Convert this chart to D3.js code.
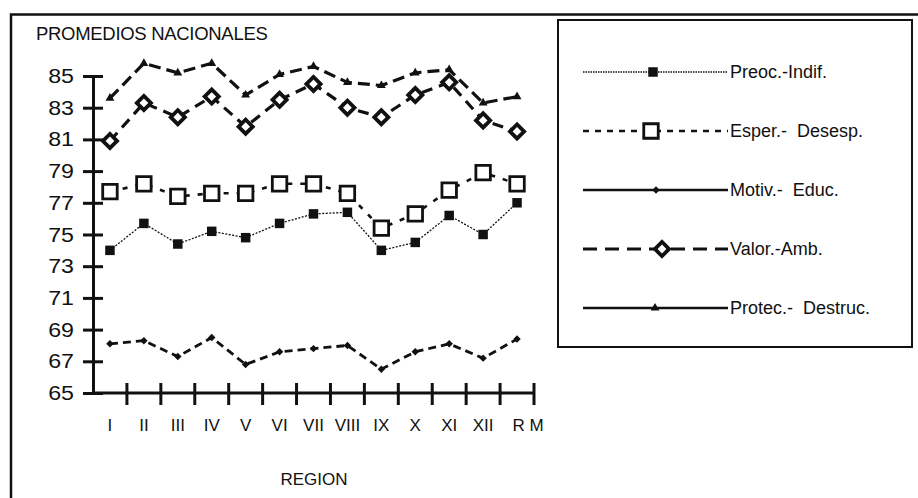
<!DOCTYPE html>
<html>
<head>
<meta charset="utf-8">
<script src="https://cdn.jsdelivr.net/npm/d3@7"></script>
<style>
  body { margin: 0; background: #fff; }
  text { font-family: "Liberation Sans", Arial, Helvetica, sans-serif; fill: #111; }
</style>
</head>
<body>
<div id="chart"></div>
<script>
// regiones y promedios
var regions = ["I", "II", "III", "IV", "V", "VI", "VII", "VIII", "IX", "X", "XI", "XII", "R M"];
var preoc  = [74.0, 75.7, 74.4, 75.2, 74.8, 75.7, 76.3, 76.4, 74.0, 74.5, 76.2, 75.0, 77.0];
var esper  = [77.7, 78.2, 77.4, 77.6, 77.6, 78.2, 78.2, 77.6, 75.4, 76.3, 77.8, 78.9, 78.2];
var motiv  = [68.1, 68.3, 67.3, 68.5, 66.8, 67.6, 67.8, 68.0, 66.5, 67.6, 68.1, 67.2, 68.4];
var valor  = [80.9, 83.3, 82.4, 83.7, 81.8, 83.5, 84.5, 83.0, 82.4, 83.8, 84.6, 82.2, 81.5];
var protec = [83.6, 85.8, 85.2, 85.8, 83.8, 85.1, 85.6, 84.6, 84.4, 85.2, 85.4, 83.3, 83.7];
var seriesNames = ["Preoc.-Indif.", "Esper.-  Desesp.", "Motiv.-  Educ.", "Valor.-Amb.", "Protec.-  Destruc."];
var yTicks = [65, 67, 69, 71, 73, 75, 77, 79, 81, 83, 85];

var series = [preoc, esper, motiv, valor, protec];

// estilos de cada serie (mismo orden que seriesNames)
var styles = [
  { symbol: d3.symbolSquare, size: 90, rot: 0, fill: "#111", sw: 0, line: 1.3, dash: "2,1.5", legDash: "1.5,1", legW: 1.4 },
  { symbol: d3.symbolSquare, size: 210, rot: 0, fill: "#fff", sw: 2.8, line: 2.6, dash: "5,8", legDash: "6,6", legW: 2.4 },
  { symbol: d3.symbolSquare, size: 28, rot: 45, fill: "#111", sw: 0, line: 2.8, dash: "8,5", legDash: null, legW: 2.4 },
  { symbol: d3.symbolSquare, size: 100, rot: 45, fill: "#fff", sw: 3.8, line: 3.2, dash: "11,7", legDash: "14,8", legW: 3 },
  { symbol: d3.symbolTriangle, size: 34, rot: 0, fill: "#111", sw: 0, line: 3.2, dash: "12,6", legDash: null, legW: 2.4 }
];

var plot = { left: 93, right: 534, top: 76, bottom: 393 };

var svg = d3.select("#chart").append("svg")
  .attr("width", 918)
  .attr("height", 498);

// marco exterior (recortado)
svg.append("path")
  .attr("d", "M11,498 L11,14.5 L918,14.5")
  .attr("fill", "none")
  .attr("stroke", "#111")
  .attr("stroke-width", 2.5);

svg.append("text")
  .attr("x", 36)
  .attr("y", 40)
  .style("font-size", "18.5px")
  .style("letter-spacing", "-0.3px")
  .text("PROMEDIOS NACIONALES");

var x = d3.scaleBand()
  .domain(regions)
  .range([plot.left, plot.right]);

var y = d3.scaleLinear()
  .domain([65, 85])
  .range([plot.bottom, plot.top]);

// eje y con marcas que cruzan el eje
var yl = svg.append("g")
  .attr("transform", "translate(" + plot.left + ",0)")
  .call(d3.axisLeft(y).tickValues(yTicks).tickSize(10).tickSizeOuter(0).tickFormat(""));
var yr = svg.append("g")
  .attr("transform", "translate(" + plot.left + ",0)")
  .call(d3.axisRight(y).tickValues(yTicks).tickSize(10).tickSizeOuter(0).tickFormat(""));
yl.selectAll("line").attr("stroke", "#111").attr("stroke-width", 3);
yr.selectAll("line").attr("stroke", "#111").attr("stroke-width", 3);
yl.select(".domain").attr("stroke", "#111").attr("stroke-width", 3);
yr.select(".domain").remove();

svg.selectAll("text.ylab")
  .data(yTicks)
  .enter()
  .append("text")
  .attr("class", "ylab")
  .attr("transform", function(d) {
    return "translate(" + (plot.left - 19) + "," + (y(d) + 7) + ") scale(1.16,1)";
  })
  .attr("text-anchor", "end")
  .style("font-size", "20px")
  .text(function(d) { return d; });

// eje x
svg.append("line")
  .attr("x1", plot.left)
  .attr("x2", plot.right)
  .attr("y1", y(65))
  .attr("y2", y(65))
  .attr("stroke", "#111")
  .attr("stroke-width", 3);

svg.selectAll("line.xtick")
  .data(regions)
  .enter()
  .append("line")
  .attr("class", "xtick")
  .attr("x1", function(d) { return x(d) + x.bandwidth(); })
  .attr("x2", function(d) { return x(d) + x.bandwidth(); })
  .attr("y1", y(65) - 10)
  .attr("y2", y(65) + 12)
  .attr("stroke", "#111")
  .attr("stroke-width", 3);

var xa = svg.append("g")
  .attr("transform", "translate(0," + y(65) + ")")
  .call(d3.axisBottom(x).tickSize(0).tickPadding(26));
xa.select(".domain").remove();
xa.selectAll("text")
  .style("font-size", "17px")
  .style("font-family", "'Liberation Sans', Arial, sans-serif")
  .attr("fill", "#111")
  .attr("dx", function(d, i) { return i == regions.length - 1 ? 11 : 0; });

svg.append("text")
  .attr("x", 314)
  .attr("y", 485)
  .attr("text-anchor", "middle")
  .style("font-size", "17px")
  .text("REGION");

// lineas
var line = d3.line()
  .x(function(d, i) { return x(regions[i]) + x.bandwidth() / 2; })
  .y(function(d) { return y(d); });

series.forEach(function(vals, k) {
  var st = styles[k];
  svg.append("path")
    .datum(vals)
    .attr("d", line)
    .attr("fill", "none")
    .attr("stroke", "#111")
    .attr("stroke-width", st.line)
    .attr("stroke-dasharray", st.dash);
});

series.forEach(function(vals, k) {
  var st = styles[k];
  svg.selectAll("path.m" + k)
    .data(vals)
    .enter()
    .append("path")
    .attr("class", "m" + k)
    .attr("d", d3.symbol().type(st.symbol).size(st.size))
    .attr("transform", function(d, i) {
      return "translate(" + (x(regions[i]) + x.bandwidth() / 2) + "," + y(d) + ") rotate(" + st.rot + ")";
    })
    .attr("fill", st.fill)
    .attr("stroke", "#111")
    .attr("stroke-width", st.sw);
});

// leyenda
var legend = svg.append("g");
legend.append("rect")
  .attr("x", 558)
  .attr("y", 20)
  .attr("width", 354)
  .attr("height", 327)
  .attr("fill", "none")
  .attr("stroke", "#111")
  .attr("stroke-width", 2);

var legY = d3.scalePoint()
  .domain(seriesNames)
  .range([72, 308]);

var item = legend.selectAll("g.item")
  .data(seriesNames)
  .enter()
  .append("g")
  .attr("class", "item")
  .attr("transform", function(d) { return "translate(0," + legY(d) + ")"; });

item.append("line")
  .attr("x1", 583)
  .attr("x2", 728)
  .attr("stroke", "#111")
  .attr("stroke-width", function(d, i) { return styles[i].legW; })
  .attr("stroke-dasharray", function(d, i) { return styles[i].legDash; });

item.append("path")
  .attr("d", function(d, i) { return d3.symbol().type(styles[i].symbol).size(styles[i].size)(); })
  .attr("transform", function(d, i) { return "translate(" + [653, 651, 656, 662, 655][i] + ",0) rotate(" + styles[i].rot + ")"; })
  .attr("fill", function(d, i) { return styles[i].fill; })
  .attr("stroke", "#111")
  .attr("stroke-width", function(d, i) { return styles[i].sw; });

item.append("text")
  .attr("x", 730)
  .attr("y", 6)
  .style("font-size", "18px")
  .style("white-space", "pre")
  .text(function(d) { return d; });
</script>
</body>
</html>
